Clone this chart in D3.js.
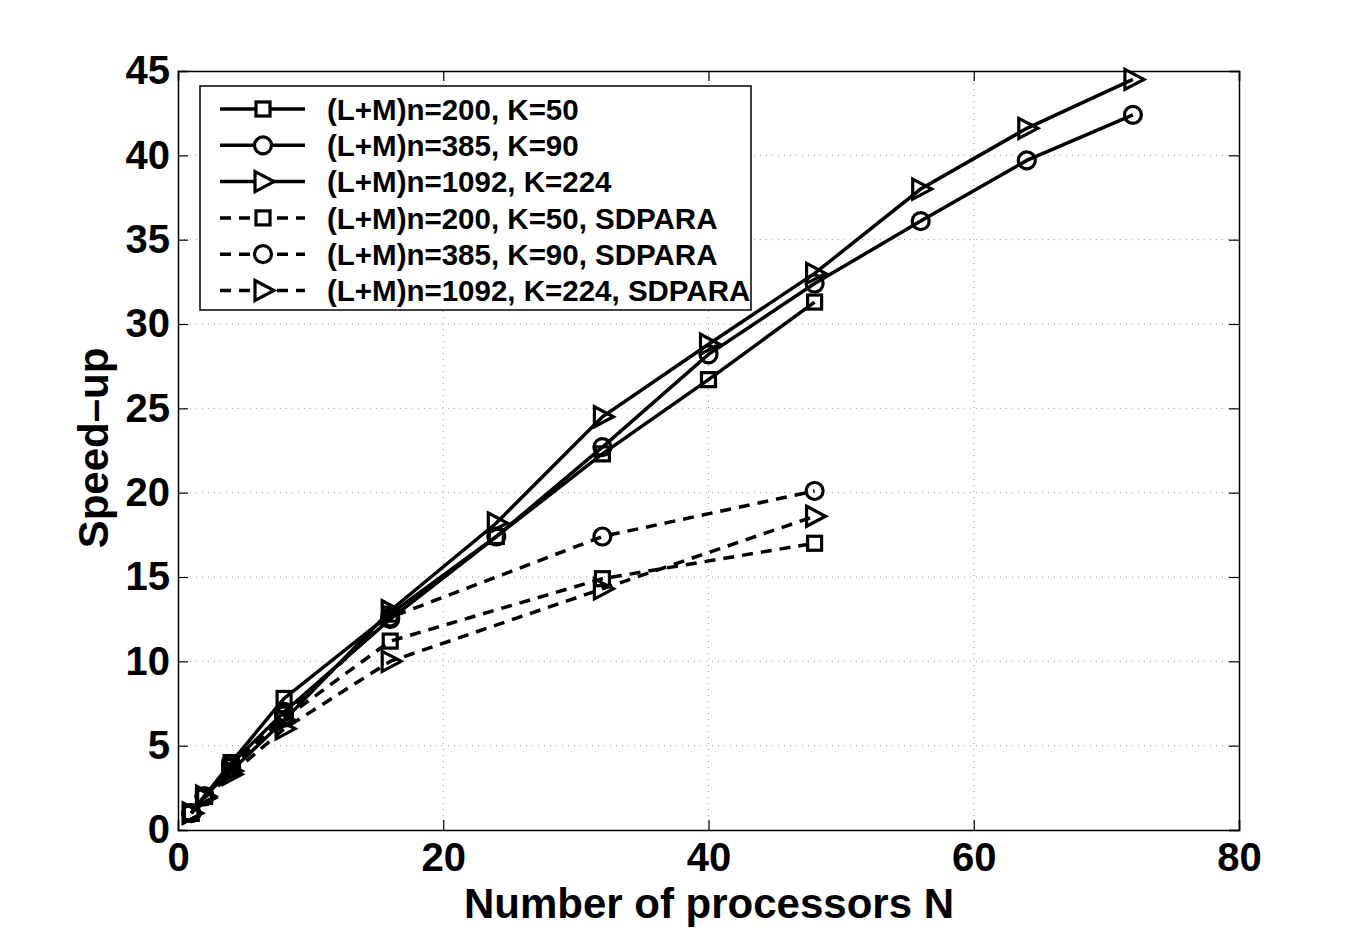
<!DOCTYPE html>
<html lang="en">
<head>
<meta charset="UTF-8">
<title>Speed-up vs processors</title>
<style>
  body { margin: 0; background: #fff; }
  svg { display: block; font-family: "Liberation Sans", Arial, sans-serif; font-weight: bold; }
</style>
</head>
<body>
<svg id="chart" width="1369" height="936"></svg>
<script src="https://cdn.jsdelivr.net/npm/d3@7"></script>
<script>
// data
const procsFull = [1, 2, 4, 8, 16, 24, 32, 40, 48, 56, 64, 72];
const procsSd = [1, 2, 4, 8, 16, 32, 48];

const lm200 = [1, 2, 4, 7.8, 12.8, 17.4, 22.3, 26.7, 31.3];
const lm385 = [1, 2, 3.9, 7.0, 12.5, 17.4, 22.7, 28.2, 32.4, 36.1, 39.7, 42.4];
const lm1092 = [1, 2, 3.5, 6.5, 13.0, 18.2, 24.5, 28.8, 33.0, 38.0, 41.6, 44.5];
const sd200 = [1, 2, 3.8, 6.6, 11.2, 14.9, 17.0];
const sd385 = [1, 2, 3.7, 6.8, 12.6, 17.4, 20.1];
const sd1092 = [1, 1.9, 3.3, 6.0, 10.0, 14.3, 18.6];

const xTicks = [0, 20, 40, 60, 80];
const yTicks = [0, 5, 10, 15, 20, 25, 30, 35, 40, 45];

const series = [
  { name: "(L+M)n=200, K=50", x: procsFull, y: lm200, marker: "square", dashed: false },
  { name: "(L+M)n=385, K=90", x: procsFull, y: lm385, marker: "circle", dashed: false },
  { name: "(L+M)n=1092, K=224", x: procsFull, y: lm1092, marker: "triangle", dashed: false },
  { name: "(L+M)n=200, K=50, SDPARA", x: procsSd, y: sd200, marker: "square", dashed: true },
  { name: "(L+M)n=385, K=90, SDPARA", x: procsSd, y: sd385, marker: "circle", dashed: true },
  { name: "(L+M)n=1092, K=224, SDPARA", x: procsSd, y: sd1092, marker: "triangle", dashed: true }
];

const svg = d3.select("#chart");
const m = { left: 178, right: 1239, top: 71, bottom: 830 };

const x = d3.scaleLinear().domain([0, 80]).range([m.left, m.right]);
const y = d3.scaleLinear().domain([0, 45]).range([m.bottom, m.top]);

// grid
const grid = svg.append("g")
  .attr("stroke", "#999").attr("stroke-width", 1).attr("stroke-dasharray", "1,5");
grid.selectAll(".gx").data(xTicks.slice(1, -1)).join("line")
  .attr("x1", d => x(d)).attr("x2", d => x(d)).attr("y1", m.top).attr("y2", m.bottom);
grid.selectAll(".gy").data(yTicks.slice(1, -1)).join("line")
  .attr("y1", d => y(d)).attr("y2", d => y(d)).attr("x1", m.left).attr("x2", m.right);

// axes
const tickLen = 10;
const xAxis = svg.append("g").attr("transform", `translate(0,${m.bottom})`)
  .call(d3.axisBottom(x).tickValues(xTicks).tickSize(-tickLen).tickPadding(13).tickFormat(d3.format("d")));
const yAxis = svg.append("g").attr("transform", `translate(${m.left},0)`)
  .call(d3.axisLeft(y).tickValues(yTicks).tickSize(-tickLen).tickPadding(8).tickFormat(d3.format("d")));
svg.append("g").attr("transform", `translate(0,${m.top})`)
  .call(d3.axisTop(x).tickValues(xTicks).tickSize(-tickLen).tickFormat(""));
svg.append("g").attr("transform", `translate(${m.right},0)`)
  .call(d3.axisRight(y).tickValues(yTicks).tickSize(-tickLen).tickFormat(""));

svg.selectAll(".domain").attr("stroke", "#000").attr("stroke-width", 1.5);
svg.selectAll(".tick line").attr("stroke", "#000").attr("stroke-width", 1.2);
svg.selectAll(".tick text").attr("fill", "#000")
  .style("font-size", "40px").style("font-weight", "bold")
  .style("font-family", "'Liberation Sans', Arial, sans-serif");
xAxis.selectAll(".tick text").attr("dy", "0.71em");

// axis titles
svg.append("text").attr("x", 709).attr("y", 918)
  .attr("text-anchor", "middle").style("font-size", "42px").text("Number of processors N");
svg.append("text").attr("transform", `translate(108,448) rotate(-90)`)
  .attr("text-anchor", "middle").style("font-size", "42px").text("Speed\u2013up");

// marker drawing
function drawMarker(g, type, cx, cy) {
  if (type === "square") {
    g.append("rect").attr("x", cx - 7).attr("y", cy - 7).attr("width", 14).attr("height", 14);
  } else if (type === "circle") {
    g.append("circle").attr("cx", cx).attr("cy", cy).attr("r", 8.5);
  } else {
    g.append("path").attr("d", `M${cx - 8},${cy - 10}L${cx + 11},${cy}L${cx - 8},${cy + 10}Z`);
  }
}

const line = d3.line().x(d => x(d[0])).y(d => y(d[1]));

const plot = svg.append("g");
series.forEach(s => {
  const pts = s.x.slice(0, s.y.length).map((v, i) => [v, s.y[i]]);
  plot.append("path").datum(pts).attr("d", line)
    .attr("fill", "none").attr("stroke", "#000").attr("stroke-width", 3.5)
    .attr("stroke-dasharray", s.dashed ? "11,8" : null);
  const mg = plot.append("g").attr("fill", "none").attr("stroke", "#000").attr("stroke-width", 3.2);
  pts.forEach(p => drawMarker(mg, s.marker, x(p[0]), y(p[1])));
});

// legend
const legend = svg.append("g");
legend.append("rect").attr("x", 200).attr("y", 86).attr("width", 551).attr("height", 224)
  .attr("fill", "#fff").attr("stroke", "#000").attr("stroke-width", 1.5);
series.forEach((s, i) => {
  const ly = 109 + i * 36.3;
  legend.append("line").attr("x1", 220).attr("x2", 305).attr("y1", ly).attr("y2", ly)
    .attr("stroke", "#000").attr("stroke-width", 3.5)
    .attr("stroke-dasharray", s.dashed ? "11,8" : null);
  const mg = legend.append("g").attr("fill", "#fff").attr("stroke", "#000").attr("stroke-width", 3.2);
  drawMarker(mg, s.marker, 263, ly);
  legend.append("text").attr("x", 327).attr("y", ly).attr("dy", "0.36em")
    .style("font-size", "29.5px").text(s.name);
});
</script>
</body>
</html>
